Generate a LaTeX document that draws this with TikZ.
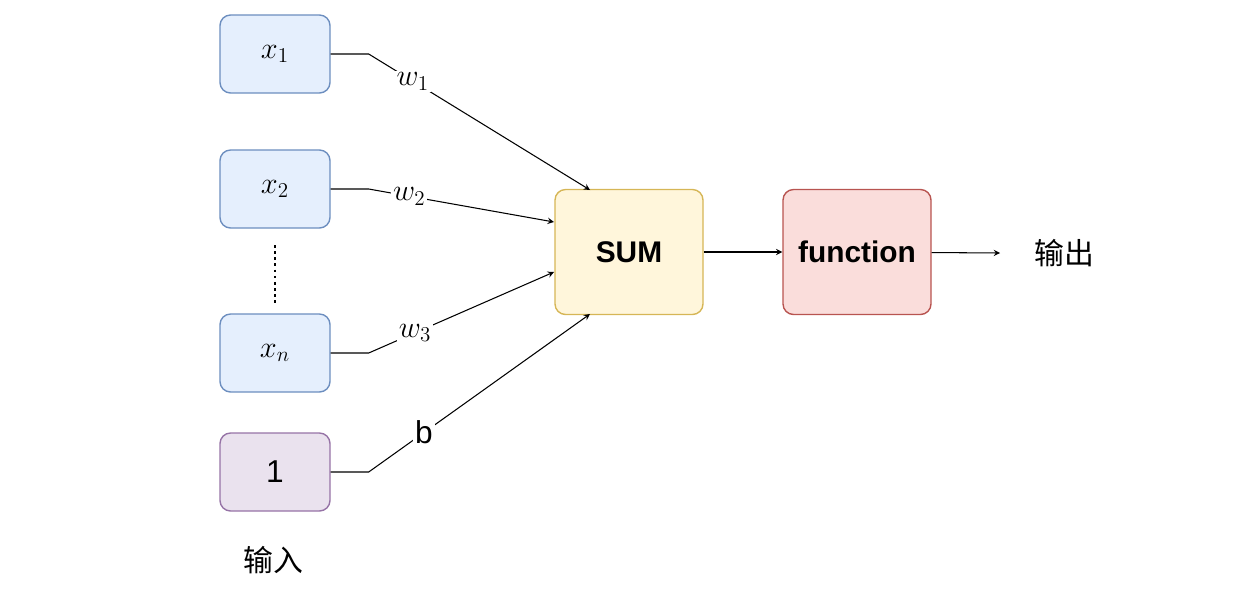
\documentclass[tikz,border=0pt]{standalone}
\usepackage{fontspec}
\setmainfont{Liberation Sans}
\newfontfamily\cjk{Noto Sans CJK SC}
\usetikzlibrary{positioning}
\definecolor{bluefill}{HTML}{DAE8FC}\definecolor{bluedraw}{HTML}{6C8EBF}
\definecolor{yelfill}{HTML}{FFF2CC}\definecolor{yeldraw}{HTML}{D6B656}
\definecolor{redfill}{HTML}{F8CECC}\definecolor{reddraw}{HTML}{B85450}
\definecolor{purfill}{HTML}{E1D5E7}\definecolor{purdraw}{HTML}{9673A6}
\tikzset{
  box/.style={rounded corners=6pt,minimum width=110*0.02cm,minimum height=78*0.02cm,line width=0.8pt,font=\fontsize{18}{21}\selectfont},
  inbox/.style={box,draw=bluedraw,fill=bluefill!70},
  bigbox/.style={box,minimum width=148*0.02cm,minimum height=125*0.02cm,font=\fontsize{17}{20}\selectfont\bfseries},
  wire/.style={-stealth,line width=0.6pt},
  lab/.style={fill=white,inner sep=1pt,font=\fontsize{18}{21}\selectfont}
}
\begin{document}
\begin{tikzpicture}[x=0.02cm,y=-0.02cm]
\useasboundingbox (0,0) rectangle (1244,596);
\node[inbox] (x1) at (275,54) {$x_1$};
\node[inbox] (x2) at (275,189) {$x_2$};
\node[inbox] (xn) at (275,353) {$x_n$};
\node[box,draw=purdraw,fill=purfill!70] (one) at (275,472) {1};
\draw[line width=1.5pt,dotted] (275,245) -- (275,305);
\node[bigbox,draw=yeldraw,fill=yelfill!70] (sum) at (629,252) {SUM};
\node[bigbox,draw=reddraw,fill=redfill!70] (fun) at (857,252) {function};
\node[font=\fontsize{17}{20}\cjk] (out) at (1064,253) {输出};
\node[font=\fontsize{17}{20}\cjk] (in) at (273,560) {输入};
\coordinate (end) at (1000,253);
\coordinate (s1) at (590,190);
\coordinate (s2) at (554,222);
\coordinate (s3) at (554,272);
\coordinate (s4) at (590,314);
% inputs to sum
\draw[wire] (x1.east) -- ++(38,0) -- node[lab,pos=0.2]{$w_1$} (s1);
\draw[wire] (x2.east) -- ++(38,0) -- node[lab,pos=0.22]{$w_2$} (s2);
\draw[wire] (xn.east) -- ++(38,0) -- node[lab,pos=0.25]{$w_3$} (s3);
\draw[wire] (one.east) -- ++(38,0) -- node[lab,pos=0.25]{b} (s4);
\draw[wire] (sum) -- (fun);
\draw[wire] (fun) -- (end);
\end{tikzpicture}
\end{document}
